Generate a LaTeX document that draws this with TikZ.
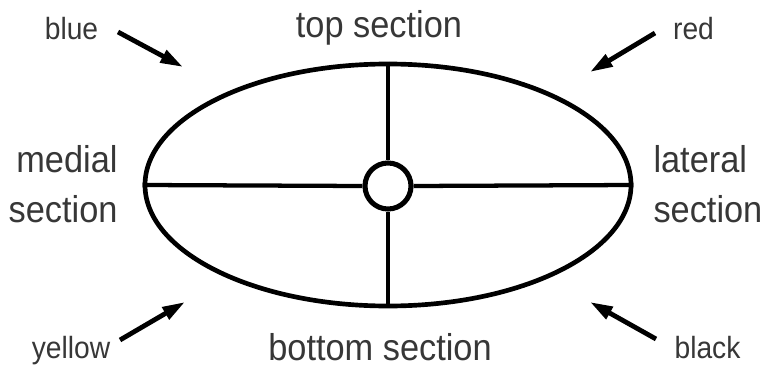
\documentclass[tikz,border=0pt]{standalone}
\usepackage{fontspec}
\setmainfont{Liberation Sans}[FakeStretch=0.92]
\usetikzlibrary{arrows.meta,shapes.geometric}
\definecolor{labelgray}{RGB}{55,55,55}
\tikzset{every picture/.style={line width=0.75pt}}
\tikzset{
  bigtext/.style={inner sep=0pt,text=labelgray,font=\fontsize{28pt}{37.5pt}\selectfont},
  smalltext/.style={inner sep=0pt,text=labelgray,font=\fontsize{23pt}{28pt}\selectfont},
  pointer/.style={line width=3.6pt,-{Triangle[length=17pt,width=10pt]}},
  cross/.style={line width=3.2pt}
}

\begin{document}
\begin{tikzpicture}[x=0.75pt,y=0.75pt,yscale=-1,xscale=1]
\useasboundingbox (0,0) rectangle (766,367);

%Shape: Ellipse [id:oval]
\node (oval) [draw,ellipse,line width=3.5pt,inner sep=0pt,minimum width=486*0.75pt,minimum height=242*0.75pt] at (388,185) {};
%Shape: Circle [id:hub]
\node (hub) [draw,circle,line width=3.8pt,inner sep=0pt,minimum size=46*0.75pt,fill=white] at (388,186) {};

%Straight Lines
\draw [cross] (oval.north) -- (hub.north) ;
\draw [cross] (hub.south) -- (oval.south) ;
\draw [cross] (oval.west) -- (hub.west) ;
\draw [cross] (hub.east) -- (oval.east) ;

%Arrow ends
\coordinate (blueTail) at (118,32);
\coordinate (blueTip) at (183,67);
\coordinate (redTail) at (655,33);
\coordinate (redTip) at (590,72);
\coordinate (yellowTail) at (120,340);
\coordinate (yellowTip) at (185,302);
\coordinate (blackTail) at (656,339);
\coordinate (blackTip) at (590,302);

\draw [pointer] (blueTail) -- (blueTip) ;
\draw [pointer] (redTail) -- (redTip) ;
\draw [pointer] (yellowTail) -- (yellowTip) ;
\draw [pointer] (blackTail) -- (blackTip) ;

% Text Node
\node (top) [bigtext,anchor=base] at (379,38) {top section};
% Text Node
\node (bottom) [bigtext,anchor=base] at (380,360) {bottom section};
% Text Node
\node (medial) [bigtext,align=right,anchor=base east] at (118,222) {medial\\section};
% Text Node
\node (lateral) [bigtext,align=left,anchor=base west] at (653,222) {lateral\\section};
% Text Node
\node (blue) [smalltext,anchor=base] at (71.5,40) {blue};
% Text Node
\node (red) [smalltext,anchor=base] at (693.5,40) {red};
% Text Node
\node (yellow) [smalltext,anchor=base] at (71,358) {yellow};
% Text Node
\node (black) [smalltext,anchor=base] at (707.5,358) {black};

\end{tikzpicture}
\end{document}
